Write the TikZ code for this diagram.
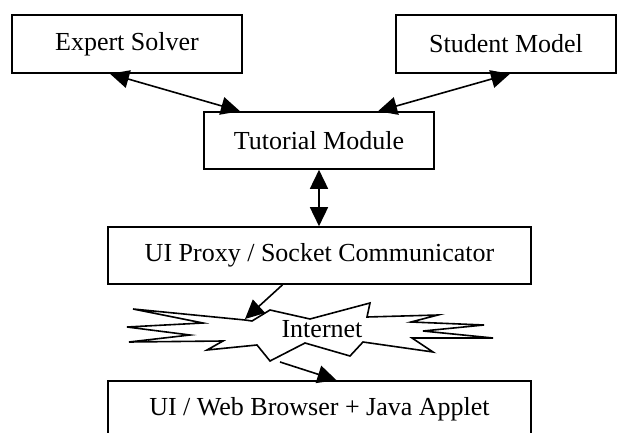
\documentclass[tikz,border=0pt]{standalone}
\usepackage{fontspec}
\setmainfont{Liberation Serif}
\usetikzlibrary{arrows.meta}
\tikzset{
  box/.style={draw, line width=1.6pt, rectangle, inner sep=0pt, font=\fontsize{26}{30}\selectfont},
  lbl/.style={inner sep=0pt, font=\fontsize{26}{30}\selectfont},
  conn/.style={line width=1.6pt, -{Triangle[length=19pt,width=18pt]}},
  biconn/.style={line width=1.6pt, {Triangle[length=19pt,width=18pt]}-{Triangle[length=19pt,width=18pt]}},
  burst/.style={line width=1.6pt, line join=miter, fill=white}
}
\begin{document}
\begin{tikzpicture}[x=1pt,y=-1pt]
\clip (0,0) rectangle (618,433);
\fill[white] (0,0) rectangle (618,433);
\node[box, minimum width=230pt, minimum height=58pt] (es) at (127,44) {Expert Solver};
\node[box, minimum width=220pt, minimum height=58pt] (sm) at (506,44) {Student Model};
\node[box, minimum width=230pt, minimum height=57pt] (tm) at (319,140.5) {Tutorial Module};
\node[box, minimum width=423pt, minimum height=57pt] (ui) at (319.5,255.5) {UI Proxy / Socket Communicator};
\node[box, minimum width=423pt, minimum height=57pt] (web) at (319.5,409.5) {UI / Web Browser + Java Applet};
\draw[burst] (133,309) -- (245,320) -- (252,321) -- (270,310) -- (310,319) -- (370,303) -- (367,317)
  -- (438,315) -- (411,322) -- (484,325) -- (423,331) -- (493,338) -- (412,338) -- (433,352)
  -- (363,342) -- (350,356) -- (305,343) -- (270,361) -- (257,345) -- (207,350) -- (223,341)
  -- (129,342) -- (190,335) -- (127,327) -- (203,323) -- cycle;
\node[lbl] (net) at (322,329) {Internet};
\coordinate (inA) at (245,319);
\coordinate (inB) at (280,362);
\draw[biconn] ([xshift=-17pt]es.south) -- ([xshift=-79pt]tm.north);
\draw[biconn] ([xshift=4pt]sm.south) -- ([xshift=59pt]tm.north);
\draw[biconn] (tm.south) -- (tm.south |- ui.north);
\draw[conn] ([xshift=-37pt]ui.south) -- (inA);
\draw[conn] (inB) -- ([xshift=17pt]web.north);
\end{tikzpicture}
\end{document}
